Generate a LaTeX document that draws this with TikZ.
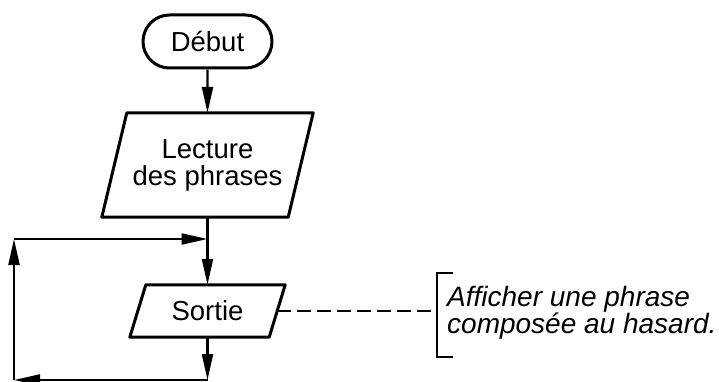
\documentclass[tikz,border=0pt]{standalone}
\usepackage{fontspec}
\setmainfont{Liberation Sans}
\usetikzlibrary{arrows.meta,shapes.misc}
\begin{document}
\begin{tikzpicture}[x=1pt,y=-1pt,
  boxline/.style={line width=3pt, line join=round},
  conn/.style={line width=2.2pt},
  arr/.style={conn,-{Triangle[length=26pt,width=11pt]}},
  lbl/.style={font=\fontsize{27.5}{27}\selectfont, align=center, inner sep=0pt},
  note/.style={font=\fontsize{28}{27}\selectfont\itshape, align=left, inner sep=0pt, anchor=west},
]
\useasboundingbox (0,0) rectangle (719,382);
% nodes
\node[lbl, draw, boxline, rounded rectangle, minimum width=129pt, minimum height=53pt] (debut) at (207.5,41.5) {Début};
\node[lbl, minimum width=186pt, minimum height=104pt] (lecture) at (207.5,165) {Lecture\\des phrases};
\draw[boxline] ([xshift=12.5pt]lecture.north west) -- ([xshift=12.5pt]lecture.north east)
  -- ([xshift=-12.5pt]lecture.south east) -- ([xshift=-12.5pt]lecture.south west) -- cycle;
\node[lbl, minimum width=139pt, minimum height=52pt] (sortie) at (207.5,311) {Sortie};
\draw[boxline] ([xshift=8pt]sortie.north west) -- ([xshift=8pt]sortie.north east)
  -- ([xshift=-8pt]sortie.south east) -- ([xshift=-8pt]sortie.south west) -- cycle;
\node[note] (txt) at (447,313) {Afficher une phrase\\composée au hasard.};
% coordinates
\coordinate (j) at (207.5,239);
\coordinate (b) at (207.5,380);
\coordinate (bl) at (14,380);
\coordinate (tl) at (14,239);
\coordinate (br) at (437,311);
\coordinate (bt) at (437,273);
\coordinate (bb) at (437,357);
\coordinate (btr) at (453,273);
\coordinate (bbr) at (453,357);
% connectors
\draw[arr] (debut) -- (lecture);
\draw[conn] (lecture.south) -- (j);
\draw[arr] (j) -- (sortie.north);
\draw[arr] (sortie.south) -- (b);
\draw[arr] (b) -- (bl);
\draw[arr] (bl) -- (tl);
\draw[arr] (tl) -- (j);
\draw[conn, dash pattern=on 14pt off 6pt] (sortie.east) -- (br);
\draw[conn] (btr) -- (bt) -- (bb) -- (bbr);
\end{tikzpicture}
\end{document}
